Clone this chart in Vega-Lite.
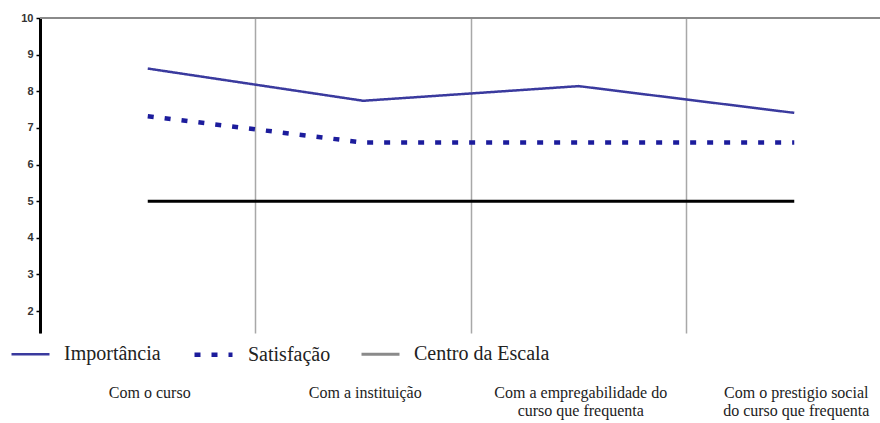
{
  "$schema": "https://vega.github.io/schema/vega-lite/v6.json",
  "autosize": {"type": "none"},
  "padding": {"left": 40, "top": 18, "right": 0, "bottom": 90},
  "width": 840,
  "height": 315,
  "background": "white",
  "config": {"view": {"stroke": null}},
  "data": {
    "values": [
      {"aspecto": "Com o curso", "serie": "Importância", "valor": 8.62},
      {"aspecto": "Com a instituição", "serie": "Importância", "valor": 7.74},
      {"aspecto": "Com a empregabilidade do curso que frequenta", "serie": "Importância", "valor": 8.14},
      {"aspecto": "Com o prestigio social do curso que frequenta", "serie": "Importância", "valor": 7.41},
      {"aspecto": "Com o curso", "serie": "Satisfação", "valor": 7.32},
      {"aspecto": "Com a instituição", "serie": "Satisfação", "valor": 6.6},
      {"aspecto": "Com a empregabilidade do curso que frequenta", "serie": "Satisfação", "valor": 6.6},
      {"aspecto": "Com o prestigio social do curso que frequenta", "serie": "Satisfação", "valor": 6.6},
      {"aspecto": "Com o curso", "serie": "Centro da Escala", "valor": 5},
      {"aspecto": "Com a instituição", "serie": "Centro da Escala", "valor": 5},
      {"aspecto": "Com a empregabilidade do curso que frequenta", "serie": "Centro da Escala", "valor": 5},
      {"aspecto": "Com o prestigio social do curso que frequenta", "serie": "Centro da Escala", "valor": 5}
    ]
  },
  "encoding": {
    "x": {
      "field": "aspecto",
      "type": "nominal",
      "sort": null,
      "scale": {"type": "band", "range": [0, 862], "paddingInner": 0, "paddingOuter": 0},
      "axis": {
        "orient": "bottom",
        "title": null,
        "domain": false,
        "ticks": false,
        "grid": true,
        "gridColor": "#a8a8a8",
        "gridWidth": 1.5,
        "bandPosition": 0,
        "labelAngle": 0,
        "labelAlign": "center",
        "labelBaseline": "top",
        "labelOffset": 2,
        "labelPadding": 51,
        "labelOverlap": false,
        "labelFlush": false,
        "labelLimit": 300,
        "labelFont": "Liberation Serif",
        "labelFontSize": 16,
        "labelColor": "#222222",
        "labelLineHeight": 18,
        "labelExpr": "datum.label == 'Com a empregabilidade do curso que frequenta' ? ['Com a empregabilidade do', 'curso que frequenta'] : datum.label == 'Com o prestigio social do curso que frequenta' ? ['Com o prestigio social', 'do curso que frequenta'] : datum.label"
      }
    },
    "y": {
      "field": "valor",
      "type": "quantitative",
      "scale": {"domain": [1.4, 10], "nice": false, "zero": false},
      "axis": {
        "title": null,
        "values": [2, 3, 4, 5, 6, 7, 8, 9, 10],
        "grid": false,
        "labelOverlap": false,
        "domainColor": "#000000",
        "domainWidth": 3,
        "tickColor": "#000000",
        "tickWidth": 1.5,
        "tickSize": 4,
        "labelPadding": 3,
        "labelFont": "Liberation Sans",
        "labelFontWeight": "bold",
        "labelFontSize": 11,
        "labelColor": "#333333"
      }
    }
  },
  "layer": [
    {
      "mark": {"type": "rule", "color": "#8a8a8a", "strokeWidth": 2},
      "encoding": {"x": null, "y": {"datum": 10, "type": "quantitative"}}
    },
    {
      "transform": [{"filter": "datum.serie != 'Centro da Escala'"}],
      "mark": {"type": "line", "strokeCap": "butt"},
      "encoding": {
        "color": {
          "field": "serie",
          "type": "nominal",
          "scale": {
            "domain": ["Importância", "Satisfação", "Centro da Escala"],
            "range": ["#3a3a9e", "#1c1c9c", "#8a8a8a"]
          },
          "legend": {
            "orient": "none",
            "legendX": -30,
            "legendY": 315,
            "direction": "horizontal",
            "title": null,
            "symbolType": "stroke",
            "symbolSize": 1444,
            "symbolStrokeWidth": 3,
            "labelFont": "Liberation Serif",
            "labelFontSize": 20,
            "labelColor": "#222222",
            "labelOffset": 13,
            "columnPadding": 24,
            "labelLimit": 300
          }
        },
        "strokeDash": {
          "field": "serie",
          "type": "nominal",
          "scale": {
            "domain": ["Importância", "Satisfação", "Centro da Escala"],
            "range": [[1, 0], [6, 11], [1, 0]]
          },
          "legend": null
        },
        "strokeWidth": {
          "field": "serie",
          "type": "nominal",
          "scale": {
            "type": "ordinal",
            "domain": ["Importância", "Satisfação", "Centro da Escala"],
            "range": [2.5, 4.5, 3]
          },
          "legend": null
        }
      }
    },
    {
      "transform": [{"filter": "datum.serie == 'Centro da Escala'"}],
      "mark": {"type": "line", "color": "#000000", "strokeWidth": 3, "strokeCap": "butt"},
      "encoding": {}
    }
  ]
}
